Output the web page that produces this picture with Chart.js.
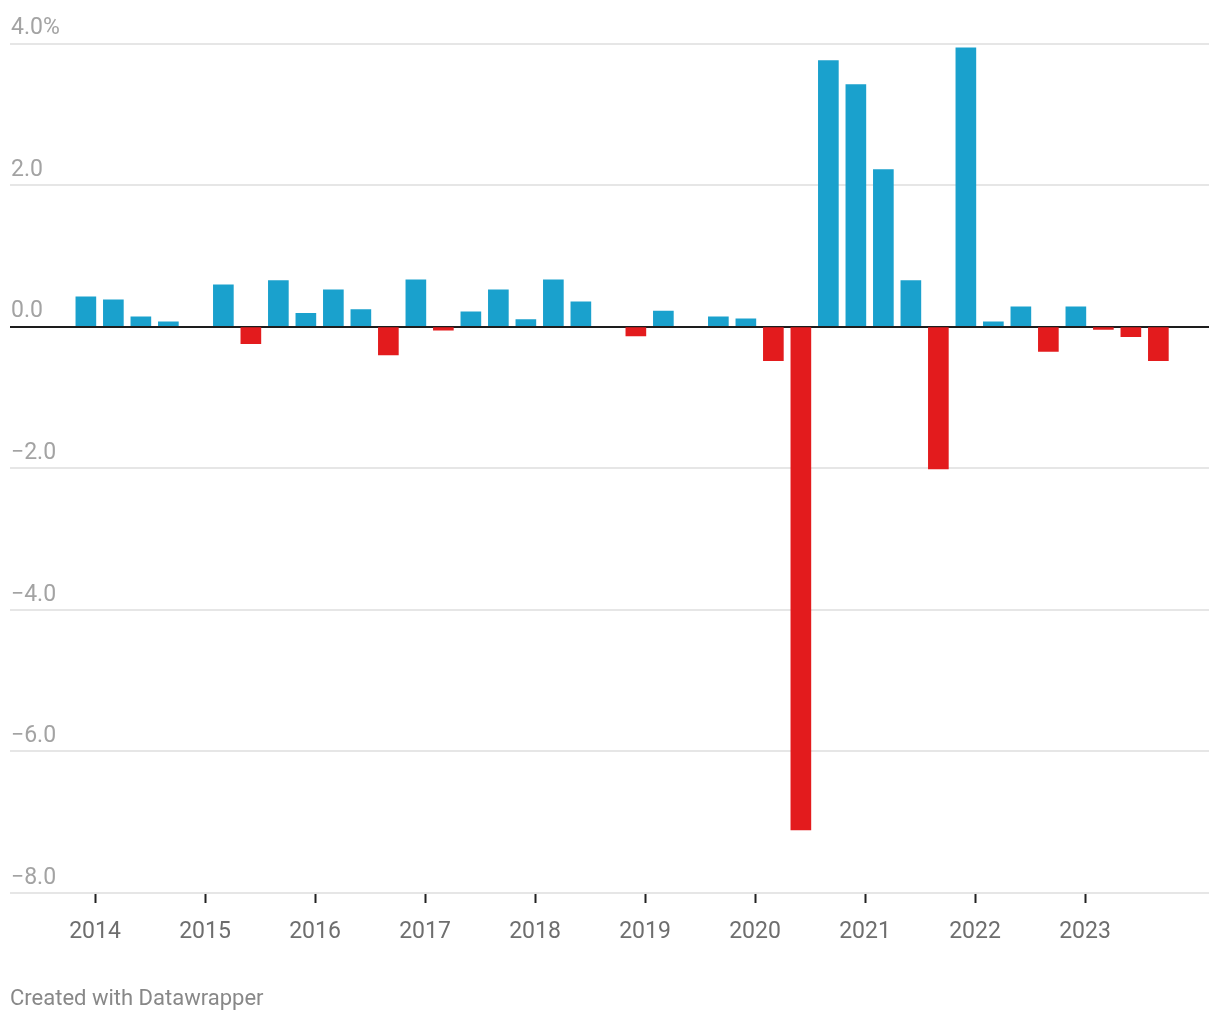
<!DOCTYPE html>
<html>
<head>
<meta charset="utf-8">
<script src="https://cdn.jsdelivr.net/npm/chart.js@4"></script>
<style>
  html, body { margin: 0; padding: 0; background: #fff; }
  #wrap { width: 1220px; height: 1020px; }
</style>
</head>
<body>
<div id="wrap"><canvas id="growthChart" width="1220" height="1020"></canvas></div>
<script>
// quarterly change, %
const quarters = [
  '2013 Q4',
  '2014 Q1', '2014 Q2', '2014 Q3', '2014 Q4',
  '2015 Q1', '2015 Q2', '2015 Q3', '2015 Q4',
  '2016 Q1', '2016 Q2', '2016 Q3', '2016 Q4',
  '2017 Q1', '2017 Q2', '2017 Q3', '2017 Q4',
  '2018 Q1', '2018 Q2', '2018 Q3', '2018 Q4',
  '2019 Q1', '2019 Q2', '2019 Q3', '2019 Q4',
  '2020 Q1', '2020 Q2', '2020 Q3', '2020 Q4',
  '2021 Q1', '2021 Q2', '2021 Q3', '2021 Q4',
  '2022 Q1', '2022 Q2', '2022 Q3', '2022 Q4',
  '2023 Q1', '2023 Q2', '2023 Q3'
];
const changes = [
  0.42,
  0.38, 0.14, 0.07, 0.00,
  0.59, -0.24, 0.65, 0.19,
  0.52, 0.24, -0.40, 0.66,
  -0.05, 0.21, 0.52, 0.10,
  0.66, 0.35, 0.00, -0.13,
  0.22, 0.00, 0.14, 0.11,
  -0.48, -7.11, 3.76, 3.42,
  2.22, 0.65, -2.01, 3.94,
  0.07, 0.28, -0.35, 0.28,
  -0.04, -0.14, -0.48
];
const yearTicks = [2014, 2015, 2016, 2017, 2018, 2019, 2020, 2021, 2022, 2023];
const valueTicks = [-8, -6, -4, -2, 0, 2, 4];

const BLUE = '#1aa1cd';
const RED = '#e31b1d';

// bar sits on the last month of its quarter
function quarterToX(q) {
  const parts = q.split(' Q');
  return Number(parts[0]) + (3 * Number(parts[1]) - 1) / 12;
}

const points = quarters.map((q, i) => ({ x: quarterToX(q), y: changes[i] }));

function barColor(ctx) {
  if (!ctx.raw || ctx.raw.y === 0) return 'rgba(0,0,0,0)';
  return ctx.raw.y < 0 ? RED : BLUE;
}

new Chart(document.getElementById('growthChart'), {
    type: 'bar',
    data: {
        datasets: [{
            data: points,
            backgroundColor: barColor,
            borderWidth: 0,
            barThickness: 20
        }]
    },
    options: {
        responsive: false,
        animation: false,
        devicePixelRatio: 1,
        layout: { padding: { left: 10, right: 11, top: 43.5, bottom: 0 } },
        plugins: {
            legend: { display: false },
            tooltip: { enabled: false },
            title: {
                display: true,
                text: 'Created with Datawrapper',
                position: 'bottom',
                align: 'start',
                color: '#888888',
                font: { family: 'Roboto', size: 22, weight: 'normal' },
                padding: { top: 23.6, bottom: 7 }
            }
        },
        scales: {
            x: {
                type: 'linear',
                min: 2013.227,
                max: 2024.127,
                offset: false,
                border: { display: false },
                grid: {
                    offset: false,
                    drawOnChartArea: false,
                    drawTicks: true,
                    tickLength: 10,
                    tickWidth: 2,
                    tickColor: '#222222'
                },
                afterBuildTicks: scale => {
                    scale.ticks = yearTicks.map(v => ({ value: v }));
                },
                afterFit: scale => { scale.height = 70; },
                ticks: {
                    padding: 15,
                    color: '#6e6e6e',
                    font: { family: 'Roboto', size: 23 },
                    maxRotation: 0,
                    autoSkip: false,
                    callback: v => String(v)
                }
            },
            y: {
                min: -8,
                max: 4,
                border: { display: false },
                grid: {
                    drawTicks: false,
                    lineWidth: 2,
                    color: ctx => ctx.tick && ctx.tick.value === 0 ? '#1d1d1d' : '#e6e6e6'
                },
                afterBuildTicks: scale => {
                    scale.ticks = valueTicks.map(v => ({ value: v }));
                },
                afterFit: scale => { scale.width = 0; },
                ticks: {
                    mirror: true,
                    padding: 1,
                    labelOffset: -15,
                    color: '#a3a3a3',
                    font: { family: 'Roboto', size: 23 },
                    callback: v => {
                        const s = Math.abs(v).toFixed(1);
                        const txt = v < 0 ? '\u2212' + s : s;
                        return v === 4 ? txt + '%' : txt;
                    }
                }
            }
        }
    }
});
</script>
</body>
</html>
